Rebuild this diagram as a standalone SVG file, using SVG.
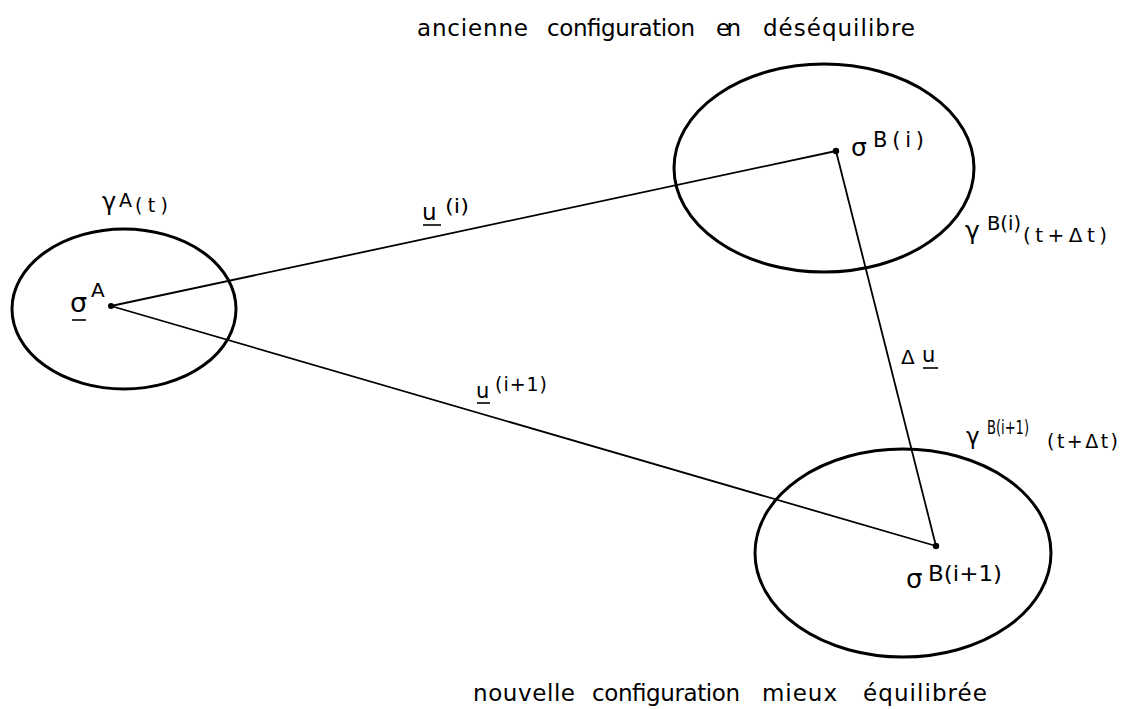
<svg xmlns="http://www.w3.org/2000/svg" width="1121" height="709" viewBox="0 0 1121 709">
<style>
.ell{fill:none;stroke:#000;stroke-width:3}
.con{fill:none;stroke:#000;stroke-width:1.8}
.ul{stroke:#000;stroke-width:1.6}
.dot{fill:#000}
text{font-family:"DejaVu Sans","Liberation Sans",sans-serif;fill:#000}
.cap{font-size:23px}
</style>
<rect width="1121" height="709" fill="#fff"/>
<g id="connectors">
<line class="con" x1="111" y1="306" x2="836" y2="151"/>
<line class="con" x1="111" y1="306" x2="936" y2="546"/>
<line class="con" x1="836" y1="151" x2="936" y2="546"/>
<text x="422" y="220" font-size="23">u</text>
<line class="ul" x1="423" y1="225" x2="441" y2="225"/>
<text x="445" y="213" font-size="19" textLength="24" lengthAdjust="spacingAndGlyphs">(i)</text>
<text x="476" y="398" font-size="21">u</text>
<line class="ul" x1="477" y1="403" x2="490" y2="403"/>
<text x="495" y="391" font-size="19" textLength="52" lengthAdjust="spacing">(i+1)</text>
<text x="901" y="364" font-size="20">Δ</text>
<text x="922" y="362" font-size="21">u</text>
<line class="ul" x1="923" y1="368" x2="938" y2="368"/>
</g>
<g id="node-A">
<ellipse class="ell" cx="124" cy="309" rx="112" ry="80"/>
<circle class="dot" cx="111" cy="306" r="3"/>
<text x="102" y="210" font-size="24">γ</text>
<text x="119" y="207" font-size="19">A</text>
<text x="135" y="212" font-size="19" textLength="33" lengthAdjust="spacing">(t)</text>
<text x="70" y="312" font-size="27">σ</text>
<line class="ul" x1="72" y1="320" x2="86" y2="320"/>
<text x="91" y="297" font-size="20">A</text>
</g>
<g id="node-Bi">
<ellipse class="ell" cx="824" cy="168" rx="150" ry="104"/>
<circle class="dot" cx="836" cy="151" r="3.2"/>
<text x="851" y="156" font-size="25">σ</text>
<text x="873" y="147" font-size="21" textLength="51" lengthAdjust="spacing">B(i)</text>
<text x="965" y="239" font-size="25">γ</text>
<text x="987" y="230" font-size="20" textLength="34" lengthAdjust="spacingAndGlyphs">B(i)</text>
<text x="1023" y="242" font-size="20" textLength="84" lengthAdjust="spacing">(t+Δt)</text>
</g>
<g id="node-Bi1">
<ellipse class="ell" cx="903" cy="553" rx="148" ry="104"/>
<circle class="dot" cx="936" cy="546" r="3.2"/>
<text x="906" y="588" font-size="26">σ</text>
<text x="928" y="581" font-size="22" textLength="74" lengthAdjust="spacingAndGlyphs">B(i+1)</text>
<text x="966" y="444" font-size="23">γ</text>
<text x="987" y="434" font-size="20" textLength="42" lengthAdjust="spacingAndGlyphs">B(i+1)</text>
<text x="1047" y="448" font-size="19" textLength="71" lengthAdjust="spacing">(t+Δt)</text>
</g>
<g id="captions">
<text class="cap" y="36"><tspan x="417" textLength="111" lengthAdjust="spacing">ancienne</tspan> <tspan x="547" textLength="148" lengthAdjust="spacing">configuration</tspan> <tspan x="716" textLength="25" lengthAdjust="spacing">en</tspan> <tspan x="763" textLength="152" lengthAdjust="spacing">déséquilibre</tspan></text>
<text class="cap" y="701"><tspan x="473" textLength="102" lengthAdjust="spacing">nouvelle</tspan> <tspan x="592" textLength="148" lengthAdjust="spacing">configuration</tspan> <tspan x="762" textLength="75" lengthAdjust="spacing">mieux</tspan> <tspan x="863" textLength="124" lengthAdjust="spacing">équilibrée</tspan></text>
</g>
</svg>
